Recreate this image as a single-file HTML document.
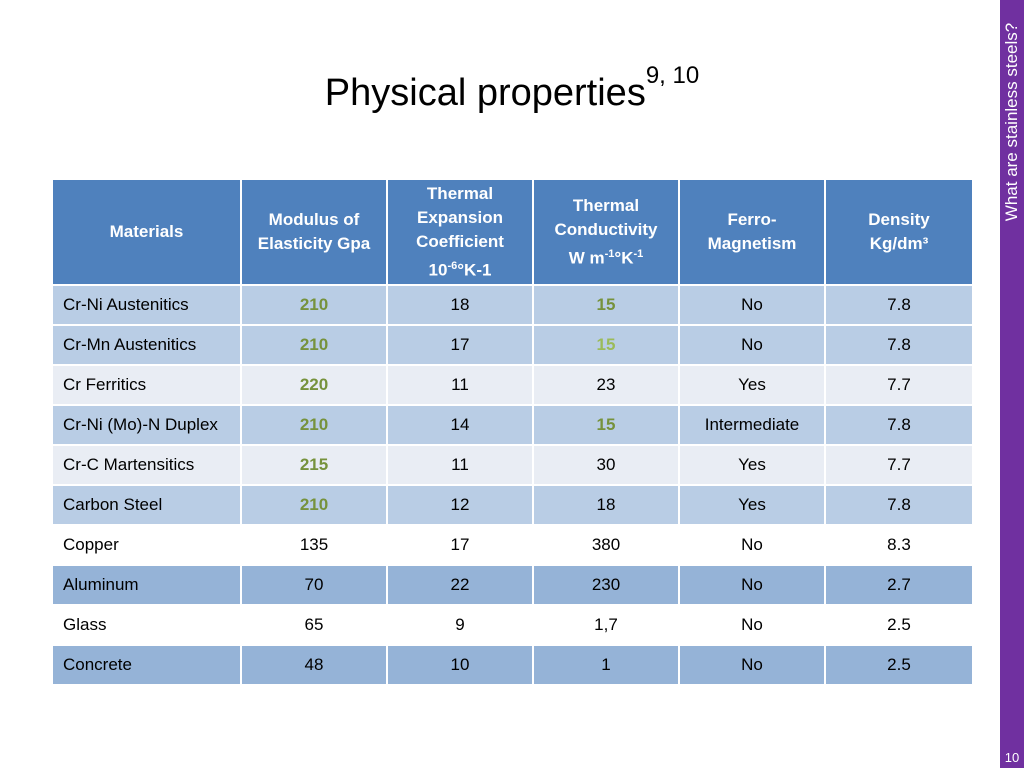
<!DOCTYPE html>
<html><head><meta charset="utf-8"><style>
body{margin:0;width:1024px;height:768px;background:#fff;position:relative;overflow:hidden;font-family:"Liberation Sans",sans-serif}
.side{position:absolute;left:1000px;top:0;width:24px;height:768px;background:#7030a0}
.sidet{position:absolute;left:1012px;top:122px;transform:translate(-50%,-50%) rotate(-90deg);white-space:nowrap;color:#fff;font-size:17px}
.pn{position:absolute;left:1000px;width:24px;top:750px;text-align:center;color:#fff;font-size:13px}
h1{position:absolute;left:0;width:1024px;top:72px;margin:0;text-align:center;font-weight:normal;font-size:38px;color:#000}
h1 sup{font-size:24px;vertical-align:0;position:relative;top:-22px}
table{position:absolute;left:51px;top:178px;border-collapse:collapse;table-layout:fixed;width:921px}
td,th{border:2px solid #fff;padding:0;font-size:17px;color:#000}
th{background:#4f81bd;color:#fff;font-size:17px;height:104px;line-height:24px}
td{height:38px;text-align:center}
td:first-child{text-align:left;padding-left:10px}
tr.a td{background:#b9cde5}tr.b td{background:#e9edf4}tr.w td{background:#fff}tr.d td{background:#95b3d7}
.g{color:#76923c;font-weight:bold}.lg{color:#9bbb59;font-weight:bold}
sup.s{font-size:11px}
</style></head><body>
<div class="side"></div>
<div class="sidet">What are stainless steels?</div>
<div class="pn">10</div>
<h1>Physical properties<sup>9, 10</sup></h1>
<table>
<colgroup><col style="width:189px"><col style="width:146px"><col style="width:146px"><col style="width:146px"><col style="width:146px"><col style="width:148px"></colgroup>
<tr><th>Materials</th><th>Modulus of<br>Elasticity Gpa</th><th>Thermal<br>Expansion<br>Coefficient<br>10<sup class="s">-6</sup>°K-1</th><th>Thermal<br>Conductivity<br>W m<sup class="s">-1</sup>°K<sup class="s">-1</sup></th><th>Ferro-<br>Magnetism</th><th>Density<br>Kg/dm³</th></tr>
<tr class="a"><td>Cr-Ni Austenitics</td><td class="g">210</td><td>18</td><td class="g">15</td><td>No</td><td>7.8</td></tr>
<tr class="a"><td>Cr-Mn Austenitics</td><td class="g">210</td><td>17</td><td class="lg">15</td><td>No</td><td>7.8</td></tr>
<tr class="b"><td>Cr Ferritics</td><td class="g">220</td><td>11</td><td>23</td><td>Yes</td><td>7.7</td></tr>
<tr class="a"><td>Cr-Ni (Mo)-N Duplex</td><td class="g">210</td><td>14</td><td class="g">15</td><td>Intermediate</td><td>7.8</td></tr>
<tr class="b"><td>Cr-C Martensitics</td><td class="g">215</td><td>11</td><td>30</td><td>Yes</td><td>7.7</td></tr>
<tr class="a"><td>Carbon Steel</td><td class="g">210</td><td>12</td><td>18</td><td>Yes</td><td>7.8</td></tr>
<tr class="w"><td>Copper</td><td>135</td><td>17</td><td>380</td><td>No</td><td>8.3</td></tr>
<tr class="d"><td>Aluminum</td><td>70</td><td>22</td><td>230</td><td>No</td><td>2.7</td></tr>
<tr class="w"><td>Glass</td><td>65</td><td>9</td><td>1,7</td><td>No</td><td>2.5</td></tr>
<tr class="d"><td>Concrete</td><td>48</td><td>10</td><td>1</td><td>No</td><td>2.5</td></tr>
</table>
</body></html>
